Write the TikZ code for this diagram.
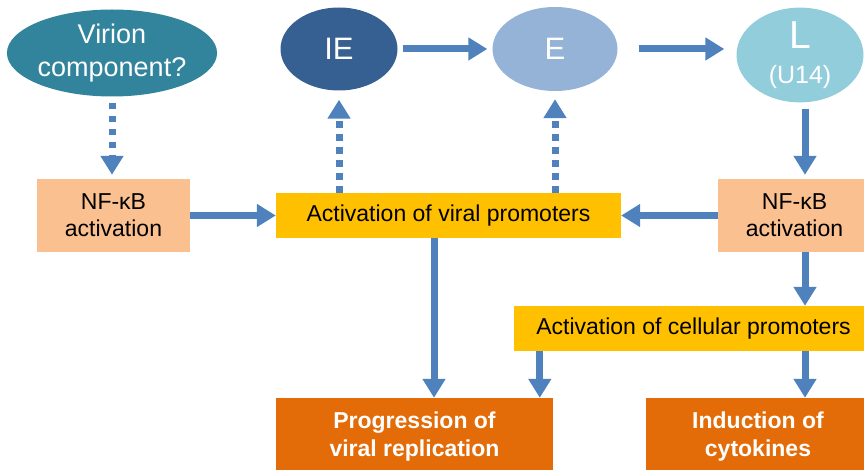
\documentclass[tikz,border=0pt]{standalone}
\usepackage{fontspec}
\setmainfont{Liberation Sans}
\usepackage{tikz}
\usetikzlibrary{arrows.meta, shapes.geometric}

\definecolor{virionteal}{HTML}{31849B}
\definecolor{iedark}{HTML}{366092}
\definecolor{elight}{HTML}{95B3D7}
\definecolor{lcyan}{HTML}{92CDDC}
\definecolor{nfpeach}{HTML}{FAC090}
\definecolor{promyellow}{HTML}{FFC000}
\definecolor{outorange}{HTML}{E36C09}
\definecolor{arrowblue}{HTML}{4F81BD}

\begin{document}
\begin{tikzpicture}[x=1pt, y=-1pt,
  stage/.style={ellipse, fill=#1, text=white, inner sep=0pt, align=center},
  nfbox/.style={fill=nfpeach, minimum width=153pt, minimum height=73pt, align=center, font=\fontsize{23}{27}\selectfont},
  prombox/.style={fill=promyellow, minimum height=45pt, font=\fontsize{23}{27}\selectfont},
  outbox/.style={fill=outorange, text=white, minimum height=78pt, align=center, font=\bfseries\fontsize{23}{28}\selectfont},
  flow/.style={draw=arrowblue, line width=7pt, -{Triangle[width=22pt, length=19pt, fill=arrowblue]}},
  hint/.style={flow, dash pattern=on 6.5pt off 6.5pt}]
\useasboundingbox (0,0) rectangle (864,470);
\clip (0,0) rectangle (864,470);

\node[stage=virionteal, minimum width=207pt, minimum height=87pt, font=\fontsize{27}{33}\selectfont] (virion) at (112,53) {Virion\\component?};
\node[stage=iedark, minimum width=117pt, minimum height=83pt, font=\fontsize{31}{36}\selectfont] (ie) at (339,49) {IE};
\node[stage=elight, minimum width=125pt, minimum height=84pt, font=\fontsize{31}{36}\selectfont] (e) at (555,49) {E};
\node[stage=lcyan, minimum width=127pt, minimum height=89pt, font=\fontsize{25}{35}\selectfont] (l) at (800,55) {{\fontsize{39}{35}\selectfont L}\\(U14)};

\node[nfbox] (nfl) at (113.5,215.5) {NF-κB\\activation};
\node[nfbox] (nfr) at (794.5,215.5) {NF-κB\\activation};
\node[prombox, minimum width=345pt] (vprom) at (448.5,215.5) {Activation of viral promoters};
\node[prombox, minimum width=359pt] (cprom) at (693.5,328.5) {Activation of cellular promoters};
\node[outbox, minimum width=277pt] (prog) at (414.5,437) {Progression of\\viral replication};
\node[outbox, minimum width=224pt] (ind) at (758,437) {Induction of\\cytokines};

\draw[hint, shorten <=6pt, shorten >=4pt] (virion.south) -- (virion.south |- nfl.north);
\draw[flow] (nfl.east) -- (vprom.west);
\draw[hint, shorten >=9pt] (vprom.north -| ie.south) -- (ie.south);
\draw[hint, shorten >=8pt] (vprom.north -| e.south) -- (e.south);
\draw[flow, shorten <=5pt, shorten >=5pt] (ie.east) -- (e.west);
\draw[flow, shorten <=21pt, shorten >=12pt] (e.east) -- (e.east -| l.west);
\draw[flow, shorten <=6pt, shorten >=4pt] ([xshift=5pt]l.south) -- ([xshift=5pt]l.south |- nfr.north);
\draw[flow] (nfr.west) -- (vprom.east);
\draw[flow] ([xshift=-14.5pt]vprom.south) -- ([xshift=-14.5pt]vprom.south |- prog.north);
\draw[flow] ([xshift=5pt]l.south |- nfr.south) -- ([xshift=5pt]l.south |- cprom.north);
\draw[flow] ([xshift=26pt]cprom.south west) -- ([xshift=26pt]cprom.south west |- prog.north);
\draw[flow] ([xshift=5pt]l.south |- cprom.south) -- ([xshift=5pt]l.south |- ind.north);
\end{tikzpicture}
\end{document}
